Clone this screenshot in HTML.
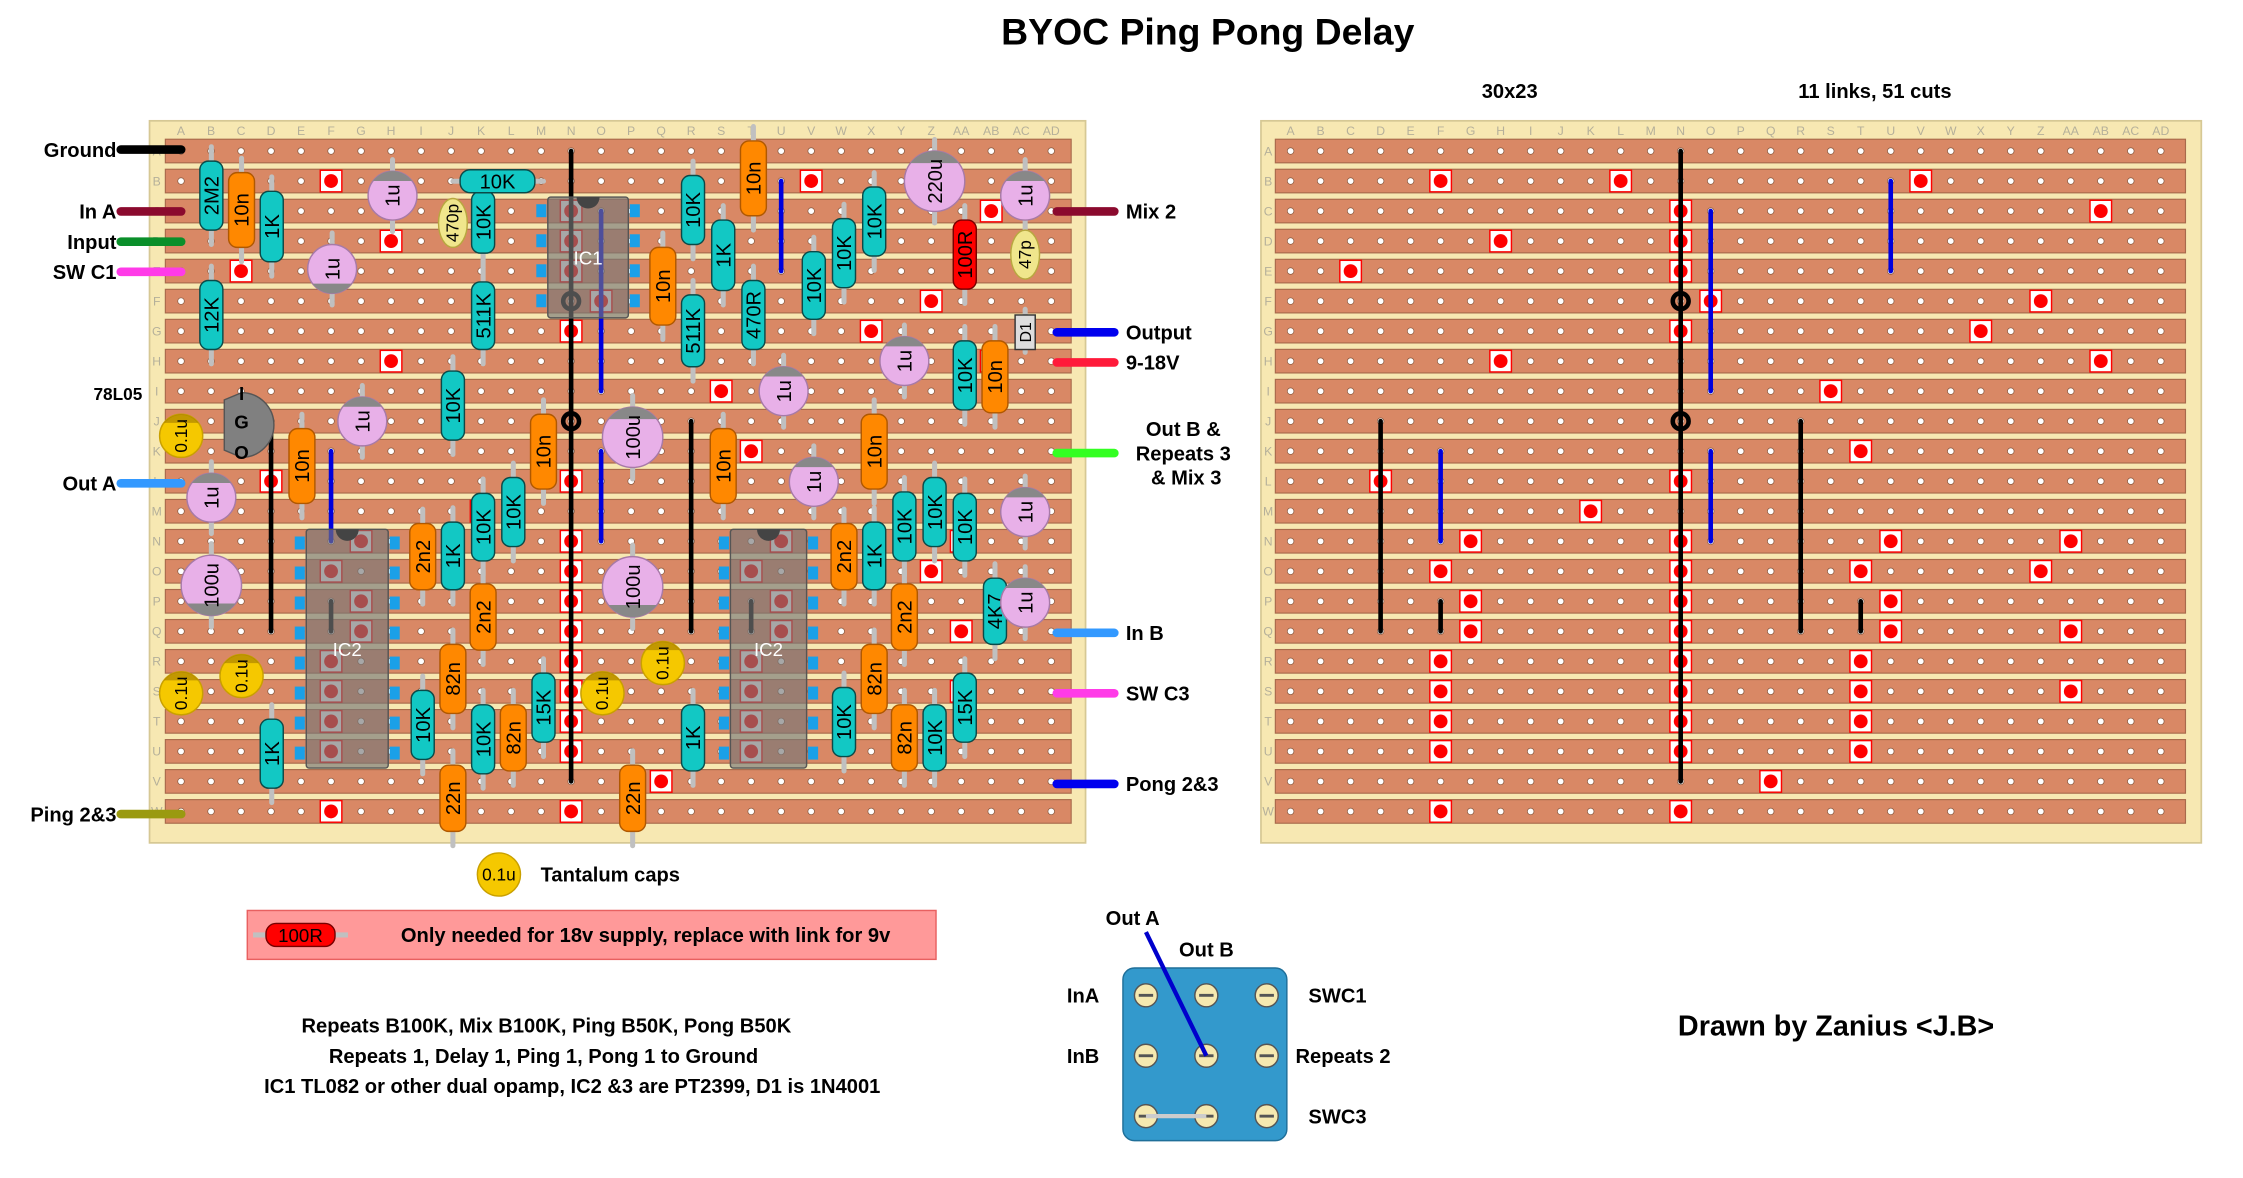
<!DOCTYPE html>
<html><head><meta charset="utf-8"><style>
html,body{margin:0;padding:0;background:#fff;}
svg{display:block;}
text{font-family:"Liberation Sans",sans-serif;}
</style></head><body>
<svg id="s" xmlns="http://www.w3.org/2000/svg" width="2243" height="1178" viewBox="0 0 1560 819" preserveAspectRatio="none"></svg>
<script>
var o=[];
function P(s){o.push(s);}
var P0=20.87;
function XL(c){return 125.9+P0*c;}
function XR(c){return 897.6+P0*c;}
function Y(r){return 105+P0*r;}
var cols="A B C D E F G H I J K L M N O P Q R S T U V W X Y Z AA AB AC AD".split(" ");
var rows="ABCDEFGHIJKLMNOPQRSTUVW".split("");
P('<text x="840" y="31" text-anchor="middle" font-size="26" font-weight="bold">BYOC Ping Pong Delay</text>');
function board(bx,bw,X,sx1,sx2){
 P('<rect x="'+bx+'" y="84" width="'+bw+'" height="502" fill="#f7e8b2" stroke="#d6c894" stroke-width="1.2"/>');
 for(var c=0;c<30;c++)P('<text x="'+X(c)+'" y="94" text-anchor="middle" font-size="8.5" fill="#b5b09a">'+cols[c]+'</text>');
 for(var r=0;r<23;r++){
  P('<text x="'+(bx+5)+'" y="'+(Y(r)+3)+'" text-anchor="middle" font-size="8.5" fill="#b5b09a">'+rows[r]+'</text>');
  P('<rect x="'+sx1+'" y="'+(Y(r)-8.2)+'" width="'+(sx2-sx1)+'" height="16.4" fill="#d98865" stroke="#a86a4c" stroke-width="0.8"/>');
  for(var c=0;c<30;c++)P('<circle cx="'+X(c)+'" cy="'+Y(r)+'" r="2.3" fill="#fff" stroke="#8a5a40" stroke-width="0.5"/>');
 }
}
board(104,651,XL,115,745);
board(877,654,XR,887,1520);
var cuts=[[5,1],[11,1],[21,1],[13,2],[27,2],[7,3],[13,3],[2,4],[13,4],[14,5],[25,5],[13,6],[23,6],[7,7],[27,7],[18,8],
[19,10],[3,11],[13,11],[10,12],[6,13],[13,13],[20,13],[26,13],[5,14],[13,14],[19,14],[25,14],[6,15],[13,15],[20,15],
[6,16],[13,16],[20,16],[26,16],[5,17],[13,17],[19,17],[5,18],[13,18],[19,18],[26,18],[5,19],[13,19],[19,19],[5,20],[13,20],[19,20],[16,21],[5,22],[13,22]];
function cut(X,c,r){var x=X(c),y=Y(r);P('<rect x="'+(x-7.5)+'" y="'+(y-7.5)+'" width="15" height="15" fill="#fff" stroke="#f00" stroke-width="1"/><circle cx="'+x+'" cy="'+y+'" r="4.8" fill="#f00"/>');}
cuts.forEach(function(k){cut(XR,k[0],k[1]);cut(XL,k[0],k[1]);});
var links=[[13,0,21,'#000'],[3,9,16,'#000'],[5,10,13,'#00d'],[5,15,16,'#000'],[14,10,13,'#00d'],[17,9,16,'#000'],[19,15,16,'#000'],[14,2,8,'#00d'],[20,1,4,'#00d']];
function links_(X){links.forEach(function(l){P('<line x1="'+X(l[0])+'" y1="'+Y(l[1])+'" x2="'+X(l[0])+'" y2="'+Y(l[2])+'" stroke="'+l[3]+'" stroke-width="3.2" stroke-linecap="round"/>');});
 [5,9].forEach(function(r){P('<circle cx="'+X(13)+'" cy="'+Y(r)+'" r="5.5" fill="none" stroke="#000" stroke-width="3.2"/>');});}
links_(XR);links_(XL);
function wire(x1,x2,y,col,lab,left){P('<line x1="'+x1+'" y1="'+y+'" x2="'+x2+'" y2="'+y+'" stroke="'+col+'" stroke-width="6" stroke-linecap="round"/>');
 if(left)P('<text x="'+(x1-3)+'" y="'+(y+5)+'" text-anchor="end" font-size="14" font-weight="bold">'+lab+'</text>');
 else if(lab)P('<text x="'+(x2+8)+'" y="'+(y+5)+'" font-size="14" font-weight="bold">'+lab+'</text>');}
wire(84,126,104,'#000','Ground',1);wire(84,126,147,'#8b0a2e','In A',1);wire(84,126,168,'#0a8f2a','Input',1);wire(84,126,189,'#ff3be8','SW C1',1);
wire(84,126,336,'#3399ff','Out A',1);wire(84,126,566,'#9a9a10','Ping 2&amp;3',1);
wire(735,775,147,'#8b0a2e','Mix 2');wire(735,775,231,'#0000ee','Output');wire(735,775,252,'#ff1a3a','9-18V');
wire(735,775,315,'#33ff22','');wire(735,775,440,'#3399ff','In B');wire(735,775,482,'#ff3be8','SW C3');wire(735,775,545,'#0000ee','Pong 2&amp;3');
P('<text x="823" y="303" text-anchor="middle" font-size="14" font-weight="bold">Out B &amp;</text><text x="823" y="320" text-anchor="middle" font-size="14" font-weight="bold">Repeats 3</text><text x="825" y="337" text-anchor="middle" font-size="14" font-weight="bold">&amp; Mix 3</text>');
P('<text x="65" y="278" font-size="12" font-weight="bold">78L05</text>');
function ic(x,y,w,h,n){P('<rect x="'+x+'" y="'+y+'" width="'+w+'" height="'+h+'" fill="rgba(120,120,120,0.65)" stroke="#555" stroke-width="1" rx="2"/>');
 var pins=Math.round(h/21);for(var i=0;i<pins;i++){var yy=y+10+i*P0;P('<rect x="'+(x-8)+'" y="'+(yy-5)+'" width="7" height="9" fill="#1aa0e8"/><rect x="'+(x+w+1)+'" y="'+(yy-5)+'" width="7" height="9" fill="#1aa0e8"/>');}
 P('<path d="M'+(x+w/2-8)+' '+y+' A8 8 0 0 0 '+(x+w/2+8)+' '+y+' Z" fill="#444"/>');
 P('<text x="'+(x+w/2)+'" y="'+(y+h/2+5)+'" text-anchor="middle" font-size="13" fill="#fff">'+n+'</text>');}
ic(381,137,56,84,'IC1');ic(213,368,57,166,'IC2');ic(508,368,53,166,'IC2');
P('<path d="M156 278 L168 273 A22 22 0 0 1 168 318 L156 313 Z" fill="#808080" stroke="#555"/><text x="168" y="278" text-anchor="middle" font-size="13" font-weight="bold">I</text><text x="168" y="298" text-anchor="middle" font-size="13" font-weight="bold">G</text><text x="168" y="319" text-anchor="middle" font-size="13" font-weight="bold">O</text>');
function lead(x,y1,y2){P('<line x1="'+x+'" y1="'+y1+'" x2="'+x+'" y2="'+y2+'" stroke="#c0c0c0" stroke-width="3.5" stroke-linecap="round"/>');}
function vr(x,y1,y2,lab,fill,st,w){w=w||16;lead(x,y1-10,y2+10);P('<rect x="'+(x-w/2)+'" y="'+y1+'" width="'+w+'" height="'+(y2-y1)+'" rx="6" fill="'+fill+'" stroke="'+st+'" stroke-width="1"/>');
 var cy=(y1+y2)/2;P('<text transform="translate('+(x+5)+','+cy+') rotate(-90)" text-anchor="middle" font-size="14">'+lab+'</text>');}
function R(x,a,b,l){vr(x,a,b,l,'#12c8c4','#0b4a48');}
function C(x,a,b,l){vr(x,a,b,l,'#ff8800','#b05800',18);}
[[147,112,160,'2M2'],[189,133,182,'1K'],[147,195,243,'12K'],[336,133,176,'10K'],[336,196,243,'511K'],[315,258,306,'10K'],[503,153,202,'1K'],[482,122,170,'10K'],[482,205,255,'511K'],[524,195,243,'470R'],[566,175,222,'10K'],[587,152,200,'10K'],[608,130,178,'10K'],[671,237,285,'10K'],[357,332,380,'10K'],[336,343,390,'10K'],[315,363,410,'1K'],[189,500,548,'1K'],[294,480,528,'10K'],[336,490,538,'10K'],[378,468,516,'15K'],[482,490,536,'1K'],[587,478,526,'10K'],[650,490,536,'10K'],[671,468,516,'15K'],[608,363,410,'1K'],[629,342,390,'10K'],[650,332,380,'10K'],[671,343,390,'10K'],[692,402,448,'4K7']].forEach(function(a){R(a[0],a[1],a[2],a[3]);});
vr(671,153,201,'100R','#ff0000','#700');
[[168,120,172,'10n'],[461,172,226,'10n'],[524,98,150,'10n'],[210,298,350,'10n'],[378,288,340,'10n'],[503,298,350,'10n'],[608,288,340,'10n'],[692,237,287,'10n'],[294,364,410,'2n2'],[336,406,452,'2n2'],[587,364,410,'2n2'],[629,406,452,'2n2'],[315,448,496,'82n'],[357,490,536,'82n'],[608,448,496,'82n'],[629,490,536,'82n'],[315,532,578,'22n'],[440,532,578,'22n']].forEach(function(a){C(a[0],a[1],a[2],a[3]);});
P('<line x1="315" y1="126" x2="378" y2="126" stroke="#c0c0c0" stroke-width="3.5" stroke-linecap="round"/><rect x="320" y="118" width="52" height="16" rx="7" fill="#12c8c4" stroke="#0b4a48"/><text x="346" y="131" text-anchor="middle" font-size="14">10K</text>');
function el(x,y,r,lab,bot){lead(x,y-r-8,y+r+8);P('<circle cx="'+x+'" cy="'+y+'" r="'+r+'" fill="#e8b0e8" stroke="#a77aa7"/>');
 var s=bot?-1:1;P('<path d="M'+(x-r*0.8)+' '+(y-s*r*0.6)+' A'+r+' '+r+' 0 0 '+(bot?0:1)+' '+(x+r*0.8)+' '+(y-s*r*0.6)+' Z" fill="#888"/>');
 P('<text transform="translate('+(x+5)+','+y+') rotate(-90)" text-anchor="middle" font-size="14">'+lab+'</text>');}
el(273,136,17,'1u');el(231,187,17,'1u',1);el(252,293,17,'1u');el(147,346,17,'1u');el(545,272,17,'1u');el(629,251,17,'1u');el(566,335,17,'1u');el(713,136,17,'1u');el(713,356,17,'1u');el(713,419,17,'1u');
el(650,126,21,'220u');el(440,304,21,'100u');el(147,407,21,'100u',1);el(440,408,21,'100u',1);
function ta(x,y){P('<circle cx="'+x+'" cy="'+y+'" r="15" fill="#f5c800" stroke="#c9a000"/><path d="M'+(x-12)+' '+(y-9)+' A15 15 0 0 1 '+(x+12)+' '+(y-9)+' Z" fill="#a07800" opacity="0.6"/><text transform="translate('+(x+4)+','+y+') rotate(-90)" text-anchor="middle" font-size="12">0.1u</text>');}
ta(126,303);ta(126,482);ta(168,470);ta(461,461);ta(419,482);
P('<ellipse cx="315" cy="155" rx="10" ry="17" fill="#f0e68c" stroke="#b8a840"/><text transform="translate(319,155) rotate(-90)" text-anchor="middle" font-size="12">470p</text>');
P('<ellipse cx="713" cy="177" rx="10" ry="17" fill="#f0e68c" stroke="#b8a840"/><text transform="translate(717,177) rotate(-90)" text-anchor="middle" font-size="12">47p</text>');
lead(713,215,245);P('<rect x="706" y="219" width="14" height="24" fill="#ddd" stroke="#333"/><text transform="translate(717,231) rotate(-90)" text-anchor="middle" font-size="11">D1</text>');
P('<text x="1050" y="68" text-anchor="middle" font-size="14" font-weight="bold">30x23</text><text x="1304" y="68" text-anchor="middle" font-size="14" font-weight="bold">11 links, 51 cuts</text>');
P('<circle cx="347" cy="608" r="15" fill="#f5c800" stroke="#c9a000"/><text x="347" y="612" text-anchor="middle" font-size="12">0.1u</text><text x="376" y="613" font-size="14" font-weight="bold">Tantalum caps</text>');
P('<rect x="172" y="633" width="479" height="34" fill="#ff9999" stroke="#e86060"/><line x1="176" y1="650" x2="242" y2="650" stroke="#c0c0c0" stroke-width="3.5"/><rect x="185" y="642" width="48" height="16" rx="7" fill="#ff0000" stroke="#700"/><text x="209" y="655" text-anchor="middle" font-size="13">100R</text><text x="449" y="655" text-anchor="middle" font-size="14" font-weight="bold">Only needed for 18v supply, replace with link for 9v</text>');
P('<text x="380" y="718" text-anchor="middle" font-size="14" font-weight="bold">Repeats B100K, Mix B100K, Ping B50K, Pong B50K</text><text x="378" y="739" text-anchor="middle" font-size="14" font-weight="bold">Repeats 1, Delay 1, Ping 1, Pong 1 to Ground</text><text x="398" y="760" text-anchor="middle" font-size="14" font-weight="bold">IC1 TL082 or other dual opamp, IC2 &amp;3 are PT2399, D1 is 1N4001</text>');
P('<rect x="781" y="673" width="114" height="120" rx="8" fill="#3399cc" stroke="#1f6f99"/>');
[797,839,881].forEach(function(x){[692,734,776].forEach(function(y){P('<circle cx="'+x+'" cy="'+y+'" r="8" fill="#f5e9b0" stroke="#555"/><line x1="'+(x-5)+'" y1="'+y+'" x2="'+(x+5)+'" y2="'+y+'" stroke="#555" stroke-width="2"/>');});});
P('<line x1="797" y1="776" x2="839" y2="776" stroke="#ccc" stroke-width="3"/><line x1="797" y1="648" x2="839" y2="734" stroke="#0000cc" stroke-width="3"/>');
P('<text x="769" y="643" font-size="14" font-weight="bold">Out A</text><text x="820" y="665" font-size="14" font-weight="bold">Out B</text><text x="742" y="697" font-size="14" font-weight="bold">InA</text><text x="742" y="739" font-size="14" font-weight="bold">InB</text><text x="910" y="697" font-size="14" font-weight="bold">SWC1</text><text x="901" y="739" font-size="14" font-weight="bold">Repeats 2</text><text x="910" y="781" font-size="14" font-weight="bold">SWC3</text>');
P('<text x="1277" y="720" text-anchor="middle" font-size="20" font-weight="bold">Drawn by Zanius &lt;J.B&gt;</text>');
document.getElementById('s').innerHTML=o.join('');
</script>
</body></html>
